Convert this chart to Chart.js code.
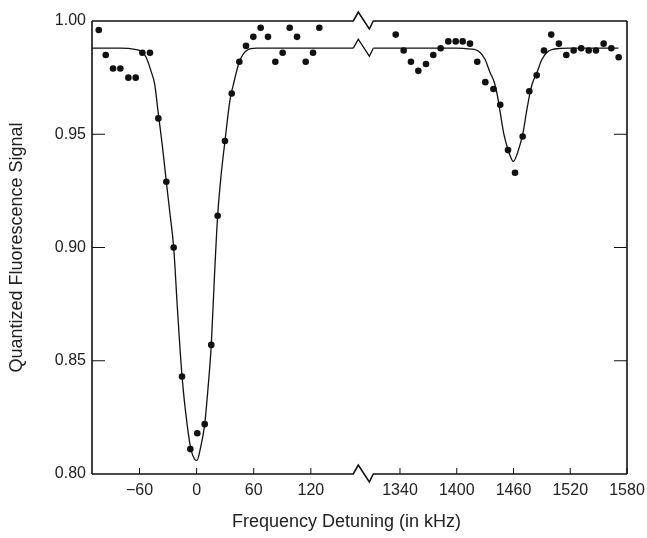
<!DOCTYPE html>
<html>
<head>
<meta charset="utf-8">
<title>Quantized Fluorescence Signal</title>
<script src="https://cdn.jsdelivr.net/npm/chart.js@4.4.0/dist/chart.umd.min.js"></script>
<style>
  html, body { margin: 0; padding: 0; background: #fff; }
</style>
</head>
<body>
<canvas id="signalChart" width="647" height="538"></canvas>
<script>
// measured points near the carrier (kHz)
const leftDotX = [-102.8, -95.5, -87.8, -80.1, -71.7, -64.0, -57.0, -49.0, -40.2, -31.8, -24.1, -15.3, -6.6, 0.7, 8.5, 15.4,
    22.1, 29.8, 36.9, 44.9, 51.9, 59.6, 67.3, 75.0, 82.7, 90.4, 97.8, 105.5, 114.6, 122.3, 128.9];
const leftDotY = [0.996, 0.985, 0.979, 0.979, 0.975, 0.975, 0.986, 0.986, 0.957, 0.929, 0.900, 0.843, 0.811, 0.818, 0.822, 0.857,
    0.914, 0.947, 0.968, 0.982, 0.989, 0.993, 0.997, 0.993, 0.982, 0.986, 0.997, 0.993, 0.982, 0.986, 0.997];

// measured points around the sideband
const rightDotX = [1335.5, 1343.9, 1351.6, 1359.4, 1367.5, 1375.2, 1383.0, 1391.1, 1398.9, 1406.3, 1414.0, 1421.7, 1430.2, 1438.8,
    1446.0, 1454.2, 1461.6, 1469.7, 1476.7, 1484.5, 1492.2, 1499.9, 1508.0, 1515.8, 1523.6, 1531.6, 1539.5, 1547.2, 1555.3, 1563.4, 1571.2];
const rightDotY = [0.994, 0.987, 0.982, 0.978, 0.981, 0.985, 0.988, 0.991, 0.991, 0.991, 0.990, 0.982, 0.973, 0.970,
    0.963, 0.943, 0.933, 0.949, 0.969, 0.976, 0.987, 0.994, 0.990, 0.985, 0.987, 0.988, 0.987, 0.987, 0.990, 0.988, 0.984];

// fitted curve
const leftFitX = [-109.9, -80, -65, -58, -53, -48, -44, -40.5, -36, -31.8, -28, -24.1, -20, -15.3, -10, -6,
    -2, 0.4, 3.6, 8.5, 12, 15.4, 18.6, 22.1, 26, 29.8, 35, 38.5, 44.9, 52.6, 63, 80, 164.6];
const leftFitY = [0.988, 0.988, 0.9875, 0.9866, 0.984, 0.978, 0.972, 0.960, 0.945, 0.929, 0.915, 0.900, 0.872, 0.843, 0.822, 0.811,
    0.8065, 0.806, 0.8106, 0.822, 0.838, 0.857, 0.886, 0.914, 0.933, 0.947, 0.965, 0.9717, 0.982, 0.987, 0.988, 0.988, 0.988];
const rightFitX = [1311.8, 1400, 1415, 1420, 1425, 1430, 1435, 1440, 1443, 1446, 1450, 1455, 1459.8, 1465, 1470, 1474,
    1477, 1480, 1485, 1490, 1495, 1500, 1510, 1520, 1571];
const rightFitY = [0.988, 0.988, 0.9876, 0.9873, 0.986, 0.983, 0.9775, 0.9725, 0.967, 0.9595, 0.9497, 0.9423, 0.938, 0.9427, 0.9505, 0.9605,
    0.9673, 0.9725, 0.9775, 0.983, 0.986, 0.9873, 0.9879, 0.988, 0.988];

const leftTicks = [-60, 0, 60, 120];
const rightTicks = [1340, 1400, 1460, 1520, 1580];
const yTicks = [0.80, 0.85, 0.90, 0.95, 1.00];

const ink = '#111';
const fontFamily = '"Liberation Sans", Arial, Helvetica, sans-serif';

function toPoints(xs, ys) {
    return xs.map((x, i) => ({ x: x, y: ys[i] }));
}

// frame with the axis break, inward ticks and the x title
const framePlugin = {
    id: 'frame',
    afterDatasetsDraw(chart) {
        const { ctx, chartArea: a, scales } = chart;
        const gapStart = scales.xL.getPixelForValue(leftFitX[leftFitX.length - 1]);
        const gapEnd = scales.xR.getPixelForValue(rightFitX[0]);

        function brokenLine(yy) {
            ctx.moveTo(a.left, yy);
            ctx.lineTo(gapStart, yy);
            ctx.lineTo(gapStart + 5, yy - 9);
            ctx.lineTo(gapEnd - 4, yy + 8);
            ctx.lineTo(gapEnd, yy);
            ctx.lineTo(a.right, yy);
        }

        ctx.save();
        ctx.strokeStyle = ink;
        ctx.lineWidth = 1.6;
        ctx.beginPath();
        brokenLine(a.top);
        brokenLine(a.bottom);
        ctx.moveTo(a.left, a.top);
        ctx.lineTo(a.left, a.bottom);
        ctx.moveTo(a.right, a.top);
        ctx.lineTo(a.right, a.bottom);
        ctx.stroke();

        // zigzag on the fitted baseline
        const base = scales.y.getPixelForValue(leftFitY[leftFitY.length - 1]);
        ctx.lineWidth = 1.3;
        ctx.beginPath();
        ctx.moveTo(gapStart, base);
        ctx.lineTo(gapStart + 5, base - 9);
        ctx.lineTo(gapEnd - 4, base + 8);
        ctx.lineTo(gapEnd, scales.y.getPixelForValue(rightFitY[0]));
        ctx.stroke();

        // inward tick marks
        ctx.lineWidth = 1;
        ctx.beginPath();
        leftTicks.forEach(v => {
            const px = scales.xL.getPixelForValue(v);
            ctx.moveTo(px, a.bottom);
            ctx.lineTo(px, a.bottom - 6);
        });
        rightTicks.forEach(v => {
            const px = scales.xR.getPixelForValue(v);
            ctx.moveTo(px, a.bottom);
            ctx.lineTo(px, a.bottom - 6);
        });
        yTicks.slice(1, -1).forEach(v => {
            const py = scales.y.getPixelForValue(v);
            ctx.moveTo(a.left, py);
            ctx.lineTo(a.left + 13, py);
            ctx.moveTo(a.right, py);
            ctx.lineTo(a.right - 13, py);
        });
        ctx.stroke();

        ctx.fillStyle = '#222';
        ctx.font = '18px ' + fontFamily;
        ctx.textAlign = 'center';
        ctx.textBaseline = 'middle';
        ctx.fillText('Frequency Detuning (in kHz)', (a.left + a.right) / 2 - 13, 522);
        ctx.restore();
    }
};

function xAxis(ticks, min, max, weight) {
    return {
        type: 'linear',
        position: 'bottom',
        stack: 'freq',
        stackWeight: weight,
        min: min,
        max: max,
        grid: { display: false, drawTicks: false },
        border: { display: false },
        ticks: {
            autoSkip: false,
            maxRotation: 0,
            includeBounds: false,
            padding: 7,
            color: '#222',
            font: { family: fontFamily, size: 16 },
            callback: v => v < 0 ? '\u2212' + Math.abs(v) : String(v)
        },
        afterBuildTicks: s => { s.ticks = ticks.map(v => ({ value: v })); },
        afterFit: s => {
            s.height = 64;
            s.paddingLeft = 0;
            s.paddingRight = 0;
        }
    };
}

const signalCtx = document.getElementById('signalChart').getContext('2d');

new Chart(signalCtx, {
    data: {
        datasets: [
            {
                type: 'line',
                data: toPoints(leftFitX, leftFitY),
                xAxisID: 'xL',
                yAxisID: 'y',
                borderColor: ink,
                borderWidth: 1.3,
                pointRadius: 0,
                cubicInterpolationMode: 'monotone',
                fill: false
            },
            {
                type: 'line',
                data: toPoints(rightFitX, rightFitY),
                xAxisID: 'xR',
                yAxisID: 'y',
                borderColor: ink,
                borderWidth: 1.3,
                pointRadius: 0,
                cubicInterpolationMode: 'monotone',
                fill: false
            },
            {
                type: 'scatter',
                data: toPoints(leftDotX, leftDotY),
                xAxisID: 'xL',
                yAxisID: 'y',
                backgroundColor: ink,
                borderWidth: 0,
                pointRadius: 3.3
            },
            {
                type: 'scatter',
                data: toPoints(rightDotX, rightDotY),
                xAxisID: 'xR',
                yAxisID: 'y',
                backgroundColor: ink,
                borderWidth: 0,
                pointRadius: 3.3
            }
        ]
    },
    options: {
        responsive: false,
        animation: false,
        layout: { padding: { top: 21, right: 20, bottom: 0, left: 0 } },
        plugins: {
            legend: { display: false },
            tooltip: { enabled: false }
        },
        scales: {
            xL: xAxis(leftTicks, -109.9, 174.8, 271),
            xR: xAxis(rightTicks, 1300.9, 1580, 264),
            y: {
                type: 'linear',
                position: 'left',
                min: 0.80,
                max: 1.00,
                grid: { display: false, drawTicks: false },
                border: { display: false },
                ticks: {
                    padding: 6,
                    color: '#222',
                    font: { family: fontFamily, size: 16 },
                    callback: v => v.toFixed(2)
                },
                afterBuildTicks: s => { s.ticks = yTicks.map(v => ({ value: v })); },
                afterFit: s => {
                    s.width = 92;
                    s.paddingTop = 0;
                    s.paddingBottom = 0;
                },
                title: {
                    display: true,
                    text: 'Quantized Fluorescence Signal',
                    color: '#222',
                    font: { family: fontFamily, size: 18 },
                    padding: { top: 6, bottom: 0 }
                }
            }
        }
    },
    plugins: [framePlugin]
});
</script>
</body>
</html>
